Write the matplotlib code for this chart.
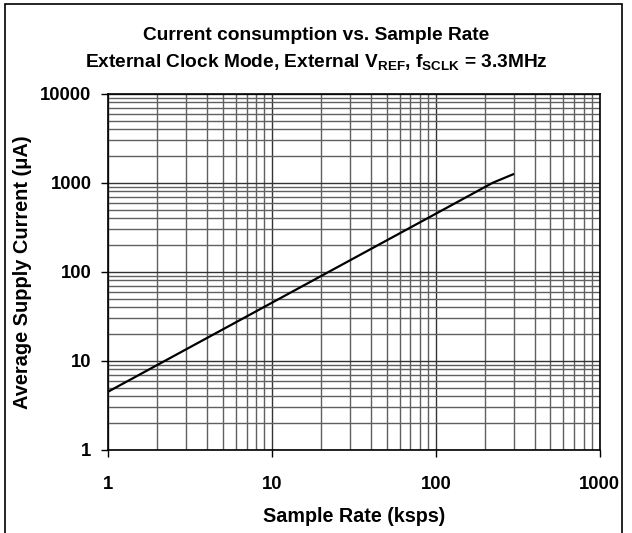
import matplotlib
matplotlib.use("Agg")
import matplotlib.pyplot as plt
from matplotlib.patches import Rectangle
from matplotlib.ticker import LogLocator, FixedLocator, NullFormatter

plt.rcParams['font.family'] = ['Liberation Sans', 'DejaVu Sans']
plt.rcParams['mathtext.fontset'] = 'custom'
plt.rcParams['mathtext.rm'] = 'Liberation Sans:bold'
plt.rcParams['mathtext.bf'] = 'Liberation Sans:bold'
plt.rcParams['mathtext.it'] = 'Liberation Sans:bold'

# Data
sample_rate = [1, 10, 100, 222, 300]          # ksps
supply_current = [4.5, 45, 450, 1000, 1260]   # uA
x_ticks = [1, 10, 100, 1000]
x_tick_labels = ["1", "10", "100", "1000"]
y_ticks = [1, 10, 100, 1000, 10000]
y_tick_labels = ["1", "10", "100", "1000", "10000"]

fig = plt.figure(figsize=(6.32, 5.33), dpi=100)
ax = fig.add_axes([0.171, 0.156, 0.778, 0.668])

ax.set_xscale('log')
ax.set_yscale('log')
ax.set_xlim(1, 1000)
ax.set_ylim(1, 10000)

ax.plot(sample_rate, supply_current, color='black', lw=1.6, solid_capstyle='butt')

ax.xaxis.set_major_locator(FixedLocator(x_ticks))
ax.yaxis.set_major_locator(FixedLocator(y_ticks))
ax.set_xticklabels(x_tick_labels, fontsize=13.3, fontweight='bold')
ax.set_yticklabels(y_tick_labels, fontsize=13.3, fontweight='bold')
ax.xaxis.set_minor_locator(LogLocator(base=10, subs=range(2, 10)))
ax.yaxis.set_minor_locator(LogLocator(base=10, subs=range(2, 10)))
ax.xaxis.set_minor_formatter(NullFormatter())
ax.yaxis.set_minor_formatter(NullFormatter())
ax.tick_params(which='major', direction='out', length=5, width=1)
ax.tick_params(axis='y', which='major', pad=7)
ax.tick_params(axis='x', which='major', pad=14)
ax.tick_params(which='minor', length=0)

ax.grid(which='major', color='#333333', lw=1.0)
ax.grid(which='minor', color='#606060', lw=1.0)
ax.set_axisbelow(True)
for s in ax.spines.values():
    s.set_linewidth(1.2)
    s.set_color('black')

ax.set_xlabel("Sample Rate (ksps)", fontsize=14.2, fontweight='bold', labelpad=10)
ax.set_ylabel("Average Supply Current (μA)", fontsize=14.4, fontweight='bold', va='center')
ax.yaxis.set_label_coords(-0.175, 0.5)

fig.text(0.5, 0.934, "Current consumption vs. Sample Rate", ha='center', va='center',
         fontsize=13.8, fontweight='bold')
fig.text(0.5, 0.884, r"External Clock Mode, External V$_{\mathbf{REF}}$, f$_{\mathbf{SCLK}}$ = 3.3MHz",
         ha='center', va='center', fontsize=13.8, fontweight='bold')

fig.patches.append(Rectangle((5/632, -0.02), (622-5)/632, 1.02 - 4/533, transform=fig.transFigure,
                             fill=False, edgecolor='black', lw=1.2))

fig.savefig("out.png", dpi=100)
